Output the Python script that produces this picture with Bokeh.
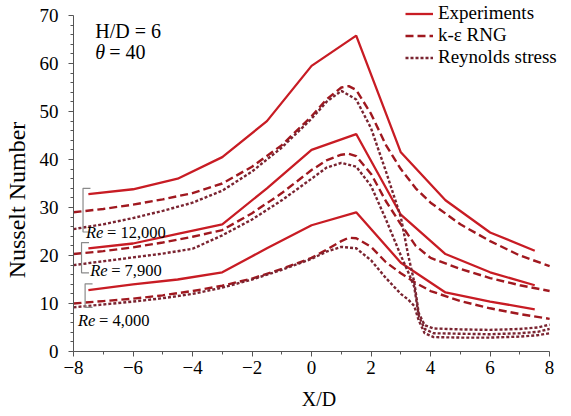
from bokeh.plotting import figure
from bokeh.models import Range1d, FixedTicker, Legend, LegendItem, Label
from bokeh.embed import file_html
from bokeh.resources import INLINE

# ---------------- data ----------------
x_exp = [-7.5, -6, -4.5, -3, -1.5, 0, 1.5, 3, 4.5, 6, 7.5]
exp_12000 = [32.8, 33.8, 36, 40.5, 48, 59.5, 65.8, 41.5, 31.5, 24.8, 21]
exp_7900 = [21.5, 22.5, 24.5, 26.5, 34, 42, 45.3, 28.5, 20.3, 16.5, 13.8]
exp_4000 = [12.8, 14, 15, 16.5, 21.5, 26.3, 29, 18.5, 12.3, 10.4, 8.8]

x_rng = [-8, -7, -6, -5, -4, -3, -2, -1, 0, 0.5, 1, 1.25, 1.5, 2, 2.5, 3, 3.5, 4, 5, 6, 7, 8]
rng_12000 = [29, 29.7, 30.6, 31.7, 33, 35, 38.5, 43, 49, 52.5, 55, 55.3, 54.5, 49.5, 43, 38, 34, 31, 26.5, 23, 20, 17.8]
rng_7900 = [20.3, 20.9, 21.7, 22.7, 23.9, 25.3, 28.8, 33, 37.8, 39.8, 41, 41.2, 40.7, 37, 31.3, 26.5, 22, 19.5, 17.2, 15.3, 13.8, 12.6]
rng_4000 = [10, 10.5, 11, 11.7, 12.6, 13.7, 15.2, 17.2, 19.5, 21.2, 23, 23.7, 23.6, 21.8, 18.6, 16.3, 14.3, 12.6, 10.5, 9, 7.8, 6.8]

x_rs = [-8, -7, -6, -5, -4, -3, -2, -1, 0, 0.5, 1, 1.5, 2, 2.5, 3, 3.25, 3.45, 3.6, 3.8, 4.1, 5, 6, 7, 7.6, 8]
rs_12000 = [25.5, 26.5, 27.8, 29.3, 31, 33.5, 37.5, 42.5, 48.5, 52, 54.3, 52.5, 46.5, 37.5, 28, 20, 14.5, 8, 5.5, 4.8, 4.6, 4.5, 4.7, 5.0, 5.6]
rs_7900 = [18, 18.8, 19.6, 20.4, 21.4, 24.2, 27.5, 31.5, 36, 38.3, 39.3, 38.5, 34.5, 27.5, 20, 16.5, 13.5, 7.5, 4.7, 3.8, 3.7, 3.6, 3.8, 4.1, 4.7]
rs_4000 = [9.2, 9.8, 10.4, 11.1, 12, 13.3, 15, 17, 19.3, 20.8, 21.8, 21.5, 19, 15.3, 12, 10.8, 9.5, 6.5, 3.8, 3.0, 2.9, 2.9, 3.1, 3.4, 3.8]

x_ticks = [-8, -6, -4, -2, 0, 2, 4, 6, 8]
x_tick_labels = ["\u22128", "\u22126", "\u22124", "\u22122", "0", "2", "4", "6", "8"]
x_minor = [-7, -5, -3, -1, 1, 3, 5, 7]
y_ticks = [0, 10, 20, 30, 40, 50, 60, 70]
y_minor = [v for v in range(0, 71, 2) if v % 10 != 0]

legend_labels = ["Experiments", "k-\u03b5 RNG", "Reynolds stress"]

# annotation text / positions
re_names = ["12,000", "7,900", "4,000"]
re_label_x = [-7.58, -7.44, -7.85]
re_label_y = [24.7, 16.8, 6.4]
bracket_x = [-7.68, -7.73, -7.61]
bracket_top = [34.0, 22.7, 14.1]
bracket_bot = [24.9, 16.4, 9.2]

FONT = "Liberation Serif"
C_EXP = "#c81c24"
C_RNG = "#a0181f"
C_RS = "#7a2431"

p = figure(width=571, height=416, x_range=Range1d(-8, 8.5), y_range=Range1d(0, 73.125),
           output_backend="svg", toolbar_location=None,
           min_border_left=73, min_border_right=7, min_border_top=0, min_border_bottom=65)
p.outline_line_color = None
p.grid.visible = False

r_exp = []
for ys in [exp_12000, exp_7900, exp_4000]:
    r_exp.append(p.line(x_exp, ys, line_color=C_EXP, line_width=2.3))
r_rng = []
for ys in [rng_12000, rng_7900, rng_4000]:
    r_rng.append(p.line(x_rng, ys, line_color=C_RNG, line_width=2.4, line_dash="8 4"))
r_rs = []
for ys in [rs_12000, rs_7900, rs_4000]:
    r_rs.append(p.line(x_rs, ys, line_color=C_RS, line_width=2.4, line_dash="3 2"))

# brackets
bxs, bys = [], []
for bx, bt, bb in zip(bracket_x, bracket_top, bracket_bot):
    bxs.append([bx + 0.25, bx, bx, bx + 0.25])
    bys.append([bt, bt, bb, bb])
p.multi_line(bxs, bys, line_color="#8a8a8a", line_width=1.2)

for name, lx, ly in zip(re_names, re_label_x, re_label_y):
    p.add_layout(Label(x=lx, y=ly, text="Re", text_font=FONT, text_font_style="italic",
                       text_font_size="16.5px", text_baseline="middle", text_color="black"))
    p.add_layout(Label(x=lx, y=ly, x_offset=21, text="= " + name, text_font=FONT,
                       text_font_size="16.5px", text_baseline="middle", text_color="black"))

p.add_layout(Label(x=-7.27, y=66.8, text="H/D = 6", text_font=FONT, text_font_size="20px",
                   text_baseline="middle", text_color="black"))
p.add_layout(Label(x=-7.27, y=62.4, text="\u03b8", text_font=FONT, text_font_style="italic",
                   text_font_size="20px", text_baseline="middle", text_color="black"))
p.add_layout(Label(x=-7.27, y=62.4, x_offset=14, text="= 40", text_font=FONT, text_font_size="20px",
                   text_baseline="middle", text_color="black"))

# axes
for ax in (p.xaxis[0], p.yaxis[0]):
    ax.axis_line_color = "#555555"
    ax.major_tick_line_color = "#555555"
    ax.minor_tick_line_color = "#555555"
    ax.major_tick_in = 0
    ax.major_tick_out = 5
    ax.minor_tick_in = 0
    ax.minor_tick_out = 3
    ax.major_label_text_font = FONT
    ax.major_label_text_font_size = "19px"
    ax.major_label_text_color = "black"
    ax.axis_label_text_font = FONT
    ax.axis_label_text_font_style = "normal"
    ax.axis_label_text_color = "black"

p.xaxis.bounds = (-8, 8)
p.xaxis.ticker = FixedTicker(ticks=x_ticks, minor_ticks=x_minor)
p.xaxis.major_label_overrides = {t: l for t, l in zip(x_ticks, x_tick_labels)}
p.xaxis.axis_label = "X/D"
p.xaxis.axis_label_text_font_size = "20px"
p.xaxis.major_label_standoff = 4
p.xaxis.axis_label_standoff = 11
p.yaxis.bounds = (0, 70)
p.yaxis.ticker = FixedTicker(ticks=y_ticks, minor_ticks=y_minor)
# trailing no-break spaces shift the centred title down to where the reference puts it
p.yaxis.axis_label = "Nusselt Number" + "\u00a0" * 8
p.yaxis.axis_label_text_font_size = "24px"
p.yaxis.major_label_standoff = 10
p.yaxis.axis_label_standoff = 7

legend = Legend(items=[LegendItem(label=legend_labels[0], renderers=[r_exp[0]]),
                       LegendItem(label=legend_labels[1], renderers=[r_rng[0]]),
                       LegendItem(label=legend_labels[2], renderers=[r_rs[0]])],
                location=(332, 283), orientation="vertical", padding=0, margin=0, spacing=0,
                glyph_width=28, glyph_height=21, label_height=21, label_standoff=5,
                label_text_font=FONT, label_text_font_size="19px", label_text_color="black",
                border_line_color=None, background_fill_alpha=0)
p.add_layout(legend)

open("out.html", "w").write(file_html(p, INLINE))
